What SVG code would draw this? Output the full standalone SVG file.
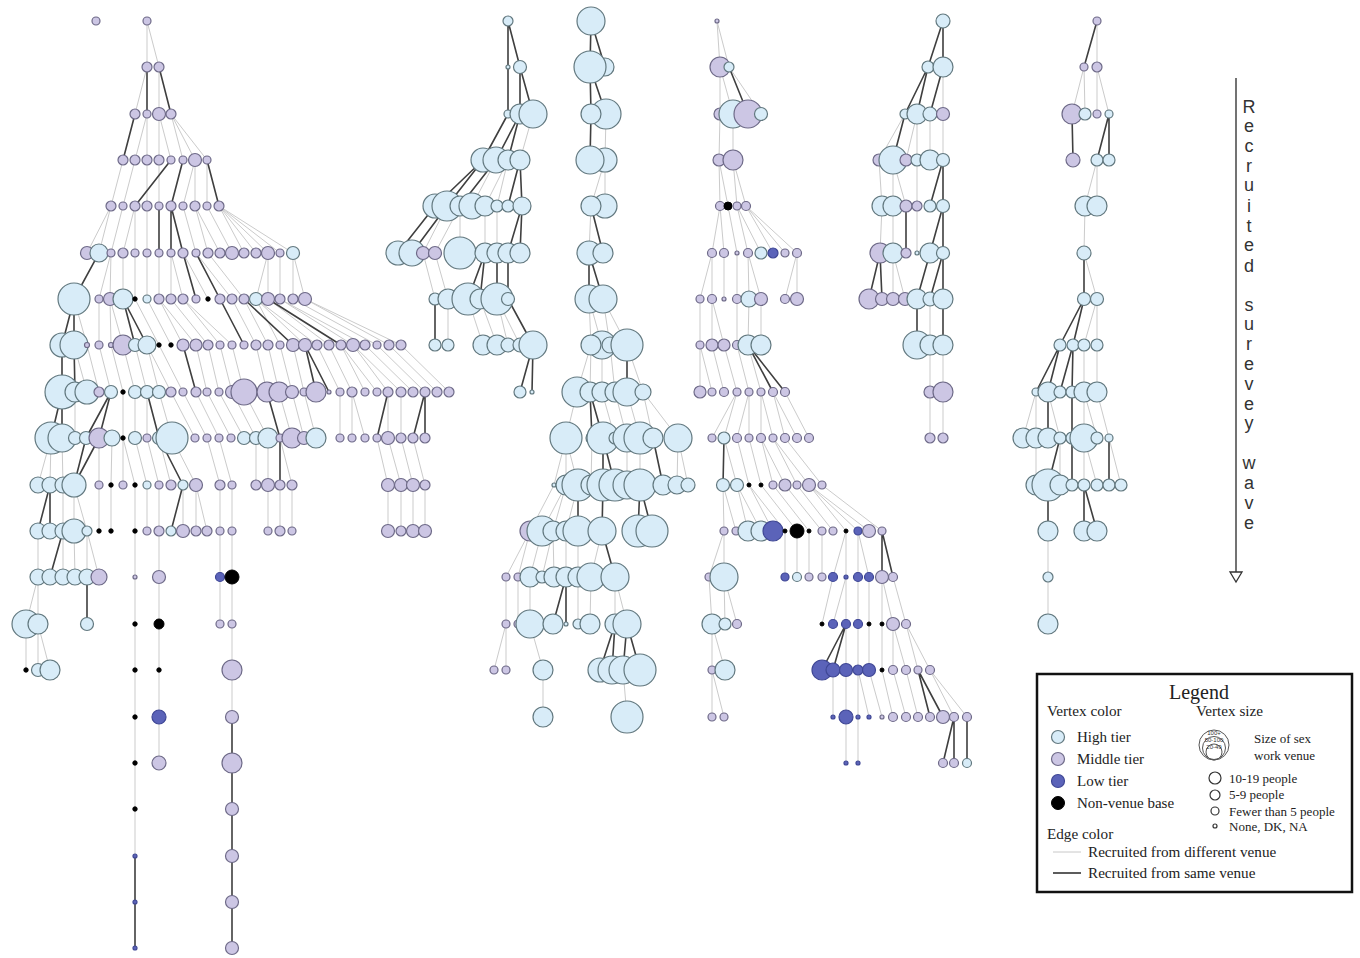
<svg xmlns="http://www.w3.org/2000/svg" width="1360" height="958" viewBox="0 0 1360 958">
<style>
.h{fill:#d8ecf8;stroke:#62787f;stroke-width:1.2}
.m{fill:#ccc6e4;stroke:#6e6a88;stroke-width:1.2}
.l{fill:#5b63b9;stroke:#3f4795;stroke-width:1.2}
.b{fill:#000;stroke:#000;stroke-width:1}
.e{fill:none;stroke:#cbcbcb;stroke-width:1}
.s{fill:none;stroke:#3f3f3f;stroke-width:1.6}
.lg{font-family:"Liberation Serif","Times New Roman",serif;fill:#222}
.ic{font-family:"Liberation Sans",Arial,sans-serif;fill:#333;font-size:6px;text-anchor:middle}
.ar{font-family:"Liberation Sans",Arial,sans-serif;fill:#333;font-size:18px;text-anchor:middle}
.w{fill:#fff;stroke:#333;stroke-width:1.2}
</style>
<rect width="1360" height="958" fill="#fff"/>
<g id="connectors">
<path class="e" d="M147 21L147 67M147 21L159 67M147 67L135 114M159 67L159 114M147 114L135 160M147 114L147 160M159 114L159 160M159 114L171 160M171 114L183 160M171 114L195 160M171 114L207 160M123 160L111 206M135 160L123 206M147 160L147 206M159 160L159 206M195 160L183 206M195 160L195 206M207 160L207 206M111 206L87 253M111 206L99 253M123 206L111 253M135 206L123 253M135 206L135 253M147 206L147 253M183 206L196 253M195 206L208 253M195 206L220 253M207 206L232 253M219 206L244 253M219 206L256 253M219 206L268 253M219 206L280 253M219 206L293 253M111 253L99 299M111 253L110 299M123 253L123 299M135 253L135 299M147 253L147 299M159 253L159 299M171 253L171 299M171 253L183 299M183 253L208 299M196 253L232 299M208 253L244 299M268 253L256 299M268 253L268 299M280 253L280 299M293 253L293 299M293 253L305 299M74 299L87 345M99 299L99 345M110 299L111 345M110 299L123 345M135 299L159 345M147 299L171 345M159 299L183 345M159 299L196 345M171 299L208 345M183 299L220 345M183 299L232 345M232 299L256 345M244 299L268 345M256 299L280 345M256 299L305 345M256 299L317 345M268 299L329 345M280 299L353 345M280 299L365 345M293 299L377 345M305 299L389 345M305 299L401 345M74 345L87 392M87 345L99 392M99 345L111 392M111 345L123 392M123 345L135 392M135 345L147 392M147 345L159 392M147 345L171 392M159 345L183 392M196 345L207 392M208 345L219 392M220 345L232 392M232 345L244 392M256 345L267 392M268 345L279 392M280 345L292 392M293 345L304 392M317 345L340 392M329 345L352 392M341 345L365 392M341 345L377 392M353 345L388 392M353 345L401 392M365 345L413 392M377 345L425 392M389 345L437 392M401 345L449 392M75 392L75 438M123 392L123 438M135 392L135 438M147 392L147 438M159 392L172 438M171 392L195 438M183 392L207 438M196 392L219 438M207 392L231 438M219 392L244 438M232 392L256 438M244 392L268 438M279 392L292 438M292 392L304 438M304 392L316 438M340 392L340 438M352 392L352 438M352 392L365 438M388 392L388 438M401 392L401 438M51 438L38 485M51 438L50 485M62 438L63 485M99 438L99 485M112 438L111 485M123 438L123 485M123 438L135 485M135 438L147 485M147 438L159 485M159 438L171 485M172 438L196 485M207 438L220 485M219 438L232 485M256 438L256 485M268 438L268 485M280 438L292 485M377 438L388 485M388 438L401 485M401 438L413 485M413 438L425 485M63 485L63 531M74 485L74 531M74 485L87 531M99 485L99 531M111 485L111 531M135 485L135 531M147 485L147 531M159 485L159 531M183 485L183 531M196 485L196 531M196 485L207 531M220 485L220 531M232 485L232 531M268 485L268 531M280 485L280 531M292 485L292 531M388 485L388 531M401 485L401 531M413 485L413 531M425 485L425 531M38 531L38 577M63 531L63 577M74 531L75 577M87 531L87 577M87 531L99 577M135 531L135 577M159 531L159 577M220 531L220 577M232 531L232 577M38 577L26 624M38 577L38 624M220 577L220 624M26 624L26 670M38 624L38 670M38 624L50 670M135 577V856M159 577V763M232 577V717"/>
<path class="e" d="M533 114L520 160M496 160L472 206M508 160L485 206M508 160L497 206M447 206L423 253M460 206L435 253M460 206L460 253M485 206L485 253M497 206L497 253M423 253L435 299M435 253L448 299M448 299L448 345M468 299L483 345M480 299L497 345M497 299L508 345M497 299L520 345"/>
<path class="e" d="M606 114L605 160M605 160L591 206M605 160L605 206M591 206L589 253M589 299L591 345M589 299L602 345M603 299L610 345M603 299L627 345M591 345L577 392M591 345L590 392M602 345L602 392M610 345L615 392M627 345L643 392M577 392L566 438M602 392L615 438M615 392L627 438M627 392L640 438M643 392L653 438M643 392L678 438M566 438L554 485M566 438L566 485M566 438L578 485M592 438L591 485M627 438L627 485M640 438L640 485M678 438L677 485M678 438L688 485M554 485L530 531M566 485L542 531M566 485L553 531M578 485L566 531M530 531L506 577M530 531L518 577M542 531L530 577M553 531L542 577M553 531L554 577M566 531L566 577M578 531L578 577M602 531L591 577M506 577L506 624M518 577L518 624M530 577L530 624M578 577L578 624M591 577L590 624M615 577L615 624M615 577L627 624M506 624L494 670M506 624L506 670M530 624L543 670M543 670L543 717M623 670L627 717"/>
<path class="e" d="M717 21L720 67M717 21L729 67M720 67L720 114M720 67L733 114M729 67L761 114M720 114L719 160M733 114L733 160M719 160L720 206M719 160L728 206M733 160L737 206M733 160L746 206M720 206L712 253M720 206L724 253M728 206L737 253M737 206L748 253M737 206L761 253M746 206L773 253M746 206L785 253M746 206L797 253M712 253L700 299M712 253L712 299M724 253L724 299M737 253L737 299M748 253L749 299M748 253L761 299M797 253L785 299M797 253L797 299M700 299L700 345M712 299L712 345M712 299L724 345M737 299L737 345M749 299L748 345M761 299L761 345M700 345L700 392M700 345L712 392M712 345L724 392M724 345L737 392M737 345L749 392M748 345L761 392M737 392L712 438M737 392L724 438M749 392L737 438M749 392L749 438M761 392L761 438M761 392L773 438M773 392L785 438M773 392L797 438M785 392L809 438M724 438L737 485M737 438L749 485M749 438L761 485M761 438L773 485M761 438L785 485M773 438L797 485M773 438L809 485M785 438L822 485M723 485L724 531M723 485L736 531M737 485L748 531M737 485L761 531M749 485L773 531M749 485L785 531M761 485L797 531M773 485L809 531M785 485L822 531M797 485L833 531M809 485L846 531M809 485L858 531M809 485L869 531M822 485L882 531M724 531L709 577M724 531L724 577M785 531L785 577M797 531L797 577M809 531L809 577M822 531L822 577M846 531L833 577M846 531L846 577M858 531L858 577M858 531L869 577M709 577L712 624M724 577L725 624M724 577L737 624M833 577L822 624M846 577L833 624M846 577L846 624M858 577L858 624M869 577L869 624M882 577L882 624M882 577L893 624M893 577L906 624M712 624L712 670M712 624L725 670M846 624L846 670M858 624L858 670M869 624L869 670M882 624L882 670M893 624L893 670M893 624L906 670M906 624L918 670M906 624L930 670M712 670L712 717M712 670L724 717M833 670L833 717M846 670L846 717M858 670L858 717M858 670L869 717M869 670L882 717M882 670L893 717M893 670L906 717M906 670L918 717M930 670L954 717M930 670L967 717M846 717L846 763M858 717L858 763"/>
<path class="e" d="M943 67L943 114M905 114L879 160M917 114L906 160M917 114L917 160M930 114L930 160M943 114L943 160M879 160L882 206M893 160L893 206M893 160L906 206M917 160L917 206M882 206L880 253M893 206L893 253M917 206L917 253M893 253L893 299M893 253L905 299M930 299L930 345M930 345L930 392M943 345L943 392M930 392L930 438M943 392L943 438"/>
<path class="e" d="M1097 21L1097 67M1084 67L1072 114M1084 67L1085 114M1097 67L1097 114M1097 67L1109 114M1097 160L1085 206M1097 160L1097 206M1085 206L1084 253M1084 253L1097 299M1097 299L1084 345M1097 299L1097 345M1084 345L1084 392M1097 345L1097 392M1036 392L1023 438M1036 392L1036 438M1048 392L1060 438M1084 392L1084 438M1084 392L1097 438M1097 392L1109 438M1036 438L1036 485M1060 438L1060 485M1084 438L1084 485M1084 438L1097 485M1109 438L1121 485M1048 531L1048 624"/>
<path class="s" d="M147 67L147 114M159 67L171 114M135 114L123 160M171 160L135 206M183 160L171 206M207 160L219 206M159 206L159 253M171 206L171 253M171 206L183 253M99 253L74 299M183 253L196 299M196 253L220 299M74 299L62 345M74 299L74 345M123 299L135 345M123 299L147 345M220 299L244 345M244 299L293 345M268 299L341 345M62 345L62 392M74 345L75 392M183 345L196 392M305 345L316 392M305 345L329 392M62 392L51 438M62 392L62 438M111 392L99 438M111 392L86 438M147 392L159 438M267 392L280 438M388 392L377 438M425 392L413 438M425 392L425 438M99 438L74 485M86 438L74 485M159 438L183 485M280 438L280 485M50 485L38 531M50 485L50 531M183 485L171 531M63 531L50 577M87 577L87 624M232 717V948M135 856V948"/>
<path class="s" d="M508 21L508 114M508 21L520 67M520 67L520 114M520 67L533 114M508 114L483 160M520 114L496 160M520 114L508 160M483 160L435 206M483 160L447 206M496 160L460 206M520 160L508 206M520 160L522 206M435 206L398 253M447 206L412 253M522 206L508 253M522 206L520 253M485 253L468 299M485 253L480 299M497 253L497 299M508 253L508 299M435 299L435 345M508 299L533 345M533 345L520 392M533 345L532 392"/>
<path class="s" d="M591 21L590 67M591 21L605 67M590 67L591 114M590 67L606 114M591 114L590 160M591 206L603 253M589 253L589 299M589 253L603 299M627 345L627 392M590 392L592 438M590 392L603 438M603 438L603 485M603 438L615 485M653 438L663 485M578 485L578 531M603 485L602 531M640 485L638 531M640 485L652 531M602 531L615 577M566 577L553 624M566 577L566 624M615 624L600 670M615 624L612 670M627 624L623 670M627 624L640 670"/>
<path class="s" d="M729 67L748 114M748 345L773 392M748 345L785 392M724 438L723 485M882 531L882 577M882 531L893 577M846 624L822 670M846 624L833 670M918 670L930 717M918 670L943 717M954 717L943 763M954 717L954 763M967 717L967 763"/>
<path class="s" d="M943 21L928 67M943 21L943 67M928 67L905 114M928 67L917 114M943 67L930 114M905 114L893 160M943 160L930 206M943 160L943 206M906 206L906 253M943 206L930 253M943 206L943 253M880 253L869 299M880 253L882 299M930 253L917 299M943 253L930 299M943 253L943 299M917 299L917 345M943 299L943 345"/>
<path class="s" d="M1097 21L1084 67M1072 114L1073 160M1109 114L1097 160M1109 114L1109 160M1084 253L1084 299M1084 299L1060 345M1084 299L1073 345M1060 345L1036 392M1060 345L1048 392M1073 345L1060 392M1073 345L1072 392M1072 392L1072 485M1048 392L1048 438M1060 438L1048 485M1109 438L1109 485M1048 485L1048 531M1084 485L1084 531M1084 485L1097 531"/>
</g>
<g id="nodes">
<g id="treeA">
<g id="A0_96"><circle class="m" cx="96" cy="21" r="4"/></g>
<g id="A0_147"><circle class="m" cx="147" cy="21" r="4"/></g>
<g id="A1_147"><circle class="m" cx="147" cy="67" r="5"/></g>
<g id="A1_159"><circle class="m" cx="159" cy="67" r="5"/></g>
<g id="A2_135"><circle class="m" cx="135" cy="114" r="5"/></g>
<g id="A2_147"><circle class="m" cx="147" cy="114" r="4"/></g>
<g id="A2_159"><circle class="m" cx="159" cy="114" r="6.5"/></g>
<g id="A2_171"><circle class="m" cx="171" cy="114" r="5"/></g>
<g id="A3_123"><circle class="m" cx="123" cy="160" r="5"/></g>
<g id="A3_135"><circle class="m" cx="135" cy="160" r="5"/></g>
<g id="A3_147"><circle class="m" cx="147" cy="160" r="5"/></g>
<g id="A3_159"><circle class="m" cx="159" cy="160" r="5"/></g>
<g id="A3_171"><circle class="m" cx="171" cy="160" r="4"/></g>
<g id="A3_183"><circle class="m" cx="183" cy="160" r="4"/></g>
<g id="A3_195"><circle class="m" cx="195" cy="160" r="6.5"/></g>
<g id="A3_207"><circle class="m" cx="207" cy="160" r="4"/></g>
<g id="A4_111"><circle class="m" cx="111" cy="206" r="5"/></g>
<g id="A4_123"><circle class="m" cx="123" cy="206" r="4"/></g>
<g id="A4_135"><circle class="m" cx="135" cy="206" r="5"/></g>
<g id="A4_147"><circle class="m" cx="147" cy="206" r="5"/></g>
<g id="A4_159"><circle class="m" cx="159" cy="206" r="4"/></g>
<g id="A4_171"><circle class="m" cx="171" cy="206" r="5"/></g>
<g id="A4_183"><circle class="m" cx="183" cy="206" r="4"/></g>
<g id="A4_195"><circle class="m" cx="195" cy="206" r="5"/></g>
<g id="A4_207"><circle class="m" cx="207" cy="206" r="4"/></g>
<g id="A4_219"><circle class="m" cx="219" cy="206" r="5"/></g>
<g id="A5_87"><circle class="m" cx="87" cy="253" r="6.5"/></g>
<g id="A5_99"><circle class="h" cx="99" cy="253" r="9"/></g>
<g id="A5_111"><circle class="m" cx="111" cy="253" r="4"/></g>
<g id="A5_123"><circle class="m" cx="123" cy="253" r="5"/></g>
<g id="A5_135"><circle class="m" cx="135" cy="253" r="4"/></g>
<g id="A5_147"><circle class="m" cx="147" cy="253" r="4"/></g>
<g id="A5_159"><circle class="m" cx="159" cy="253" r="4"/></g>
<g id="A5_171"><circle class="m" cx="171" cy="253" r="4"/></g>
<g id="A5_183"><circle class="m" cx="183" cy="253" r="5"/></g>
<g id="A5_196"><circle class="m" cx="196" cy="253" r="4"/></g>
<g id="A5_208"><circle class="m" cx="208" cy="253" r="5"/></g>
<g id="A5_220"><circle class="m" cx="220" cy="253" r="5"/></g>
<g id="A5_232"><circle class="m" cx="232" cy="253" r="6.5"/></g>
<g id="A5_244"><circle class="m" cx="244" cy="253" r="5"/></g>
<g id="A5_256"><circle class="m" cx="256" cy="253" r="5"/></g>
<g id="A5_268"><circle class="m" cx="268" cy="253" r="6.5"/></g>
<g id="A5_280"><circle class="m" cx="280" cy="253" r="4"/></g>
<g id="A5_293"><circle class="h" cx="293" cy="253" r="6.5"/></g>
<g id="A6_74"><circle class="h" cx="74" cy="299" r="16"/></g>
<g id="A6_99"><circle class="m" cx="99" cy="299" r="4"/></g>
<g id="A6_110"><circle class="m" cx="110" cy="299" r="6.5"/></g>
<g id="A6_123"><circle class="h" cx="123" cy="299" r="10"/></g>
<g id="A6_135"><circle class="b" cx="135" cy="299" r="2.2"/></g>
<g id="A6_147"><circle class="h" cx="147" cy="299" r="4"/></g>
<g id="A6_159"><circle class="m" cx="159" cy="299" r="5"/></g>
<g id="A6_171"><circle class="m" cx="171" cy="299" r="5"/></g>
<g id="A6_183"><circle class="m" cx="183" cy="299" r="5"/></g>
<g id="A6_196"><circle class="m" cx="196" cy="299" r="4"/></g>
<g id="A6_208"><circle class="b" cx="208" cy="299" r="2.2"/></g>
<g id="A6_220"><circle class="m" cx="220" cy="299" r="5"/></g>
<g id="A6_232"><circle class="m" cx="232" cy="299" r="5"/></g>
<g id="A6_244"><circle class="m" cx="244" cy="299" r="5"/></g>
<g id="A6_256"><circle class="h" cx="256" cy="299" r="6.5"/></g>
<g id="A6_268"><circle class="m" cx="268" cy="299" r="6.5"/></g>
<g id="A6_280"><circle class="m" cx="280" cy="299" r="5"/></g>
<g id="A6_293"><circle class="m" cx="293" cy="299" r="5"/></g>
<g id="A6_305"><circle class="m" cx="305" cy="299" r="6.5"/></g>
<g id="A7_62"><circle class="h" cx="62" cy="345" r="12"/></g>
<g id="A7_74"><circle class="h" cx="74" cy="345" r="14"/></g>
<g id="A7_87"><circle class="m" cx="87" cy="345" r="2.5"/></g>
<g id="A7_99"><circle class="m" cx="99" cy="345" r="4"/></g>
<g id="A7_111"><circle class="m" cx="111" cy="345" r="2.5"/></g>
<g id="A7_123"><circle class="m" cx="123" cy="345" r="10"/></g>
<g id="A7_135"><circle class="h" cx="135" cy="345" r="6.5"/></g>
<g id="A7_147"><circle class="h" cx="147" cy="345" r="9"/></g>
<g id="A7_159"><circle class="b" cx="159" cy="345" r="2.2"/></g>
<g id="A7_171"><circle class="b" cx="171" cy="345" r="2.2"/></g>
<g id="A7_183"><circle class="m" cx="183" cy="345" r="6"/></g>
<g id="A7_196"><circle class="m" cx="196" cy="345" r="6"/></g>
<g id="A7_208"><circle class="m" cx="208" cy="345" r="5"/></g>
<g id="A7_220"><circle class="m" cx="220" cy="345" r="4"/></g>
<g id="A7_232"><circle class="m" cx="232" cy="345" r="4"/></g>
<g id="A7_244"><circle class="m" cx="244" cy="345" r="4"/></g>
<g id="A7_256"><circle class="m" cx="256" cy="345" r="5"/></g>
<g id="A7_268"><circle class="m" cx="268" cy="345" r="5"/></g>
<g id="A7_280"><circle class="m" cx="280" cy="345" r="4"/></g>
<g id="A7_293"><circle class="m" cx="293" cy="345" r="6.5"/></g>
<g id="A7_305"><circle class="m" cx="305" cy="345" r="6.5"/></g>
<g id="A7_317"><circle class="m" cx="317" cy="345" r="5"/></g>
<g id="A7_329"><circle class="m" cx="329" cy="345" r="5"/></g>
<g id="A7_341"><circle class="m" cx="341" cy="345" r="5"/></g>
<g id="A7_353"><circle class="m" cx="353" cy="345" r="6.5"/></g>
<g id="A7_365"><circle class="m" cx="365" cy="345" r="5"/></g>
<g id="A7_377"><circle class="m" cx="377" cy="345" r="4"/></g>
<g id="A7_389"><circle class="m" cx="389" cy="345" r="5"/></g>
<g id="A7_401"><circle class="m" cx="401" cy="345" r="5"/></g>
<g id="A8_62"><circle class="h" cx="62" cy="392" r="17"/></g>
<g id="A8_75"><circle class="h" cx="75" cy="392" r="10"/></g>
<g id="A8_87"><circle class="h" cx="87" cy="392" r="12"/></g>
<g id="A8_99"><circle class="m" cx="99" cy="392" r="5"/></g>
<g id="A8_111"><circle class="h" cx="111" cy="392" r="6.5"/></g>
<g id="A8_123"><circle class="b" cx="123" cy="392" r="2.2"/></g>
<g id="A8_135"><circle class="h" cx="135" cy="392" r="6.5"/></g>
<g id="A8_147"><circle class="h" cx="147" cy="392" r="6.5"/></g>
<g id="A8_159"><circle class="h" cx="159" cy="392" r="6.5"/></g>
<g id="A8_171"><circle class="m" cx="171" cy="392" r="5"/></g>
<g id="A8_183"><circle class="m" cx="183" cy="392" r="4"/></g>
<g id="A8_196"><circle class="m" cx="196" cy="392" r="5"/></g>
<g id="A8_207"><circle class="m" cx="207" cy="392" r="4"/></g>
<g id="A8_219"><circle class="m" cx="219" cy="392" r="4"/></g>
<g id="A8_232"><circle class="m" cx="232" cy="392" r="6.5"/></g>
<g id="A8_244"><circle class="m" cx="244" cy="392" r="13"/></g>
<g id="A8_267"><circle class="m" cx="267" cy="392" r="10"/></g>
<g id="A8_279"><circle class="m" cx="279" cy="392" r="10"/></g>
<g id="A8_292"><circle class="m" cx="292" cy="392" r="6.5"/></g>
<g id="A8_304"><circle class="m" cx="304" cy="392" r="4"/></g>
<g id="A8_316"><circle class="m" cx="316" cy="392" r="10"/></g>
<g id="A8_329"><circle class="m" cx="329" cy="392" r="2"/></g>
<g id="A8_340"><circle class="m" cx="340" cy="392" r="4"/></g>
<g id="A8_352"><circle class="m" cx="352" cy="392" r="5"/></g>
<g id="A8_365"><circle class="m" cx="365" cy="392" r="4"/></g>
<g id="A8_377"><circle class="m" cx="377" cy="392" r="4"/></g>
<g id="A8_388"><circle class="m" cx="388" cy="392" r="5"/></g>
<g id="A8_401"><circle class="m" cx="401" cy="392" r="5"/></g>
<g id="A8_413"><circle class="m" cx="413" cy="392" r="5"/></g>
<g id="A8_425"><circle class="m" cx="425" cy="392" r="5"/></g>
<g id="A8_437"><circle class="m" cx="437" cy="392" r="5"/></g>
<g id="A8_449"><circle class="m" cx="449" cy="392" r="5"/></g>
<g id="A9_51"><circle class="h" cx="51" cy="438" r="16"/></g>
<g id="A9_62"><circle class="h" cx="62" cy="438" r="14"/></g>
<g id="A9_75"><circle class="h" cx="75" cy="438" r="6.5"/></g>
<g id="A9_86"><circle class="h" cx="86" cy="438" r="6.5"/></g>
<g id="A9_99"><circle class="m" cx="99" cy="438" r="10"/></g>
<g id="A9_112"><circle class="h" cx="112" cy="438" r="8"/></g>
<g id="A9_123"><circle class="b" cx="123" cy="438" r="2.2"/></g>
<g id="A9_135"><circle class="h" cx="135" cy="438" r="6.5"/></g>
<g id="A9_147"><circle class="m" cx="147" cy="438" r="4"/></g>
<g id="A9_159"><circle class="h" cx="159" cy="438" r="6.5"/></g>
<g id="A9_172"><circle class="h" cx="172" cy="438" r="16"/></g>
<g id="A9_195"><circle class="m" cx="195" cy="438" r="4"/></g>
<g id="A9_207"><circle class="m" cx="207" cy="438" r="4"/></g>
<g id="A9_219"><circle class="m" cx="219" cy="438" r="4"/></g>
<g id="A9_231"><circle class="m" cx="231" cy="438" r="4"/></g>
<g id="A9_244"><circle class="h" cx="244" cy="438" r="6.5"/></g>
<g id="A9_256"><circle class="h" cx="256" cy="438" r="6.5"/></g>
<g id="A9_268"><circle class="h" cx="268" cy="438" r="10"/></g>
<g id="A9_280"><circle class="m" cx="280" cy="438" r="4"/></g>
<g id="A9_292"><circle class="m" cx="292" cy="438" r="10"/></g>
<g id="A9_304"><circle class="m" cx="304" cy="438" r="6.5"/></g>
<g id="A9_316"><circle class="h" cx="316" cy="438" r="10"/></g>
<g id="A9_340"><circle class="m" cx="340" cy="438" r="4"/></g>
<g id="A9_352"><circle class="m" cx="352" cy="438" r="4"/></g>
<g id="A9_365"><circle class="m" cx="365" cy="438" r="4"/></g>
<g id="A9_377"><circle class="m" cx="377" cy="438" r="4"/></g>
<g id="A9_388"><circle class="m" cx="388" cy="438" r="6.5"/></g>
<g id="A9_401"><circle class="m" cx="401" cy="438" r="5"/></g>
<g id="A9_413"><circle class="m" cx="413" cy="438" r="5"/></g>
<g id="A9_425"><circle class="m" cx="425" cy="438" r="5"/></g>
<g id="A10_38"><circle class="h" cx="38" cy="485" r="8"/></g>
<g id="A10_50"><circle class="h" cx="50" cy="485" r="8"/></g>
<g id="A10_63"><circle class="h" cx="63" cy="485" r="8"/></g>
<g id="A10_74"><circle class="h" cx="74" cy="485" r="12"/></g>
<g id="A10_99"><circle class="m" cx="99" cy="485" r="4"/></g>
<g id="A10_111"><circle class="b" cx="111" cy="485" r="2.2"/></g>
<g id="A10_123"><circle class="m" cx="123" cy="485" r="4"/></g>
<g id="A10_135"><circle class="b" cx="135" cy="485" r="2.2"/></g>
<g id="A10_147"><circle class="h" cx="147" cy="485" r="4"/></g>
<g id="A10_159"><circle class="m" cx="159" cy="485" r="4"/></g>
<g id="A10_171"><circle class="m" cx="171" cy="485" r="5"/></g>
<g id="A10_183"><circle class="h" cx="183" cy="485" r="5"/></g>
<g id="A10_196"><circle class="m" cx="196" cy="485" r="6.5"/></g>
<g id="A10_220"><circle class="m" cx="220" cy="485" r="5"/></g>
<g id="A10_232"><circle class="m" cx="232" cy="485" r="4"/></g>
<g id="A10_256"><circle class="m" cx="256" cy="485" r="5"/></g>
<g id="A10_268"><circle class="m" cx="268" cy="485" r="6.5"/></g>
<g id="A10_280"><circle class="m" cx="280" cy="485" r="5"/></g>
<g id="A10_292"><circle class="m" cx="292" cy="485" r="5"/></g>
<g id="A10_388"><circle class="m" cx="388" cy="485" r="6.5"/></g>
<g id="A10_401"><circle class="m" cx="401" cy="485" r="6.5"/></g>
<g id="A10_413"><circle class="m" cx="413" cy="485" r="6.5"/></g>
<g id="A10_425"><circle class="m" cx="425" cy="485" r="5"/></g>
<g id="A11_38"><circle class="h" cx="38" cy="531" r="8"/></g>
<g id="A11_50"><circle class="h" cx="50" cy="531" r="8"/></g>
<g id="A11_63"><circle class="h" cx="63" cy="531" r="8"/></g>
<g id="A11_74"><circle class="h" cx="74" cy="531" r="12"/></g>
<g id="A11_87"><circle class="h" cx="87" cy="531" r="5"/></g>
<g id="A11_99"><circle class="b" cx="99" cy="531" r="2.2"/></g>
<g id="A11_111"><circle class="b" cx="111" cy="531" r="2.2"/></g>
<g id="A11_135"><circle class="b" cx="135" cy="531" r="2.2"/></g>
<g id="A11_147"><circle class="m" cx="147" cy="531" r="4"/></g>
<g id="A11_159"><circle class="m" cx="159" cy="531" r="5"/></g>
<g id="A11_171"><circle class="h" cx="171" cy="531" r="5"/></g>
<g id="A11_183"><circle class="m" cx="183" cy="531" r="6.5"/></g>
<g id="A11_196"><circle class="m" cx="196" cy="531" r="5"/></g>
<g id="A11_207"><circle class="m" cx="207" cy="531" r="5"/></g>
<g id="A11_220"><circle class="m" cx="220" cy="531" r="4"/></g>
<g id="A11_232"><circle class="m" cx="232" cy="531" r="4"/></g>
<g id="A11_268"><circle class="m" cx="268" cy="531" r="4"/></g>
<g id="A11_280"><circle class="m" cx="280" cy="531" r="5"/></g>
<g id="A11_292"><circle class="m" cx="292" cy="531" r="4"/></g>
<g id="A11_388"><circle class="m" cx="388" cy="531" r="6.5"/></g>
<g id="A11_401"><circle class="m" cx="401" cy="531" r="5"/></g>
<g id="A11_413"><circle class="m" cx="413" cy="531" r="6.5"/></g>
<g id="A11_425"><circle class="m" cx="425" cy="531" r="6.5"/></g>
<g id="A12_38"><circle class="h" cx="38" cy="577" r="8"/></g>
<g id="A12_50"><circle class="h" cx="50" cy="577" r="8"/></g>
<g id="A12_63"><circle class="h" cx="63" cy="577" r="8"/></g>
<g id="A12_75"><circle class="h" cx="75" cy="577" r="8"/></g>
<g id="A12_87"><circle class="h" cx="87" cy="577" r="8"/></g>
<g id="A12_99"><circle class="m" cx="99" cy="577" r="8"/></g>
<g id="A12_135"><circle class="m" cx="135" cy="577" r="2"/></g>
<g id="A12_159"><circle class="m" cx="159" cy="577" r="6.5"/></g>
<g id="A12_220"><circle class="l" cx="220" cy="577" r="4.5"/></g>
<g id="A12_232"><circle class="b" cx="232" cy="577" r="7"/></g>
<g id="A13_26"><circle class="h" cx="26" cy="624" r="14"/></g>
<g id="A13_38"><circle class="h" cx="38" cy="624" r="10"/></g>
<g id="A13_87"><circle class="h" cx="87" cy="624" r="6.5"/></g>
<g id="A13_135"><circle class="b" cx="135" cy="624" r="2.2"/></g>
<g id="A13_159"><circle class="b" cx="159" cy="624" r="5"/></g>
<g id="A13_220"><circle class="m" cx="220" cy="624" r="4"/></g>
<g id="A13_232"><circle class="m" cx="232" cy="624" r="4"/></g>
<g id="A14_26"><circle class="b" cx="26" cy="670" r="2.2"/></g>
<g id="A14_38"><circle class="h" cx="38" cy="670" r="6.5"/></g>
<g id="A14_50"><circle class="h" cx="50" cy="670" r="10"/></g>
<g id="A14_135"><circle class="b" cx="135" cy="670" r="2.2"/></g>
<g id="A14_159"><circle class="b" cx="159" cy="670" r="2.2"/></g>
<g id="A14_232"><circle class="m" cx="232" cy="670" r="10"/></g>
<g id="A15_135"><circle class="b" cx="135" cy="717" r="2.2"/></g>
<g id="A15_159"><circle class="l" cx="159" cy="717" r="7"/></g>
<g id="A15_232"><circle class="m" cx="232" cy="717" r="6.5"/></g>
<g id="A16_135"><circle class="b" cx="135" cy="763" r="2.2"/></g>
<g id="A16_159"><circle class="m" cx="159" cy="763" r="7"/></g>
<g id="A16_232"><circle class="m" cx="232" cy="763" r="10"/></g>
<g id="A17_135"><circle class="b" cx="135" cy="809" r="2.2"/></g>
<g id="A17_232"><circle class="m" cx="232" cy="809" r="6.5"/></g>
<g id="A18_135"><circle class="l" cx="135" cy="856" r="2"/></g>
<g id="A18_232"><circle class="m" cx="232" cy="856" r="6.5"/></g>
<g id="A19_135"><circle class="l" cx="135" cy="902" r="2"/></g>
<g id="A19_232"><circle class="m" cx="232" cy="902" r="6.5"/></g>
<g id="A20_135"><circle class="l" cx="135" cy="948" r="2"/></g>
<g id="A20_232"><circle class="m" cx="232" cy="948" r="6.5"/></g>
</g>
<g id="treeB">
<g id="B0_508"><circle class="h" cx="508" cy="21" r="5"/></g>
<g id="B1_508"><circle class="h" cx="508" cy="67" r="2"/></g>
<g id="B1_520"><circle class="h" cx="520" cy="67" r="6.5"/></g>
<g id="B2_508"><circle class="h" cx="508" cy="114" r="4"/></g>
<g id="B2_520"><circle class="h" cx="520" cy="114" r="10"/></g>
<g id="B2_533"><circle class="h" cx="533" cy="114" r="14"/></g>
<g id="B3_483"><circle class="h" cx="483" cy="160" r="12"/></g>
<g id="B3_496"><circle class="h" cx="496" cy="160" r="13"/></g>
<g id="B3_508"><circle class="h" cx="508" cy="160" r="10"/></g>
<g id="B3_520"><circle class="h" cx="520" cy="160" r="10"/></g>
<g id="B4_435"><circle class="h" cx="435" cy="206" r="12"/></g>
<g id="B4_447"><circle class="h" cx="447" cy="206" r="15"/></g>
<g id="B4_460"><circle class="h" cx="460" cy="206" r="10"/></g>
<g id="B4_472"><circle class="h" cx="472" cy="206" r="13"/></g>
<g id="B4_485"><circle class="h" cx="485" cy="206" r="10"/></g>
<g id="B4_497"><circle class="h" cx="497" cy="206" r="6"/></g>
<g id="B4_508"><circle class="h" cx="508" cy="206" r="6"/></g>
<g id="B4_522"><circle class="h" cx="522" cy="206" r="9"/></g>
<g id="B5_398"><circle class="h" cx="398" cy="253" r="12"/></g>
<g id="B5_412"><circle class="h" cx="412" cy="253" r="13"/></g>
<g id="B5_423"><circle class="m" cx="423" cy="253" r="6.5"/></g>
<g id="B5_435"><circle class="m" cx="435" cy="253" r="6.5"/></g>
<g id="B5_460"><circle class="h" cx="460" cy="253" r="16"/></g>
<g id="B5_485"><circle class="h" cx="485" cy="253" r="10"/></g>
<g id="B5_497"><circle class="h" cx="497" cy="253" r="10"/></g>
<g id="B5_508"><circle class="h" cx="508" cy="253" r="10"/></g>
<g id="B5_520"><circle class="h" cx="520" cy="253" r="10"/></g>
<g id="B6_435"><circle class="h" cx="435" cy="299" r="6"/></g>
<g id="B6_448"><circle class="h" cx="448" cy="299" r="10"/></g>
<g id="B6_468"><circle class="h" cx="468" cy="299" r="16"/></g>
<g id="B6_480"><circle class="h" cx="480" cy="299" r="10"/></g>
<g id="B6_497"><circle class="h" cx="497" cy="299" r="16"/></g>
<g id="B6_508"><circle class="h" cx="508" cy="299" r="6.5"/></g>
<g id="B7_435"><circle class="h" cx="435" cy="345" r="6"/></g>
<g id="B7_448"><circle class="h" cx="448" cy="345" r="6"/></g>
<g id="B7_483"><circle class="h" cx="483" cy="345" r="10"/></g>
<g id="B7_497"><circle class="h" cx="497" cy="345" r="10"/></g>
<g id="B7_508"><circle class="h" cx="508" cy="345" r="7"/></g>
<g id="B7_520"><circle class="h" cx="520" cy="345" r="7"/></g>
<g id="B7_533"><circle class="h" cx="533" cy="345" r="14"/></g>
<g id="B8_520"><circle class="h" cx="520" cy="392" r="6"/></g>
<g id="B8_532"><circle class="h" cx="532" cy="392" r="2"/></g>
</g>
<g id="treeC">
<g id="C0_591"><circle class="h" cx="591" cy="21" r="14"/></g>
<g id="C1_605"><circle class="h" cx="605" cy="67" r="9"/></g>
<g id="C1_590"><circle class="h" cx="590" cy="67" r="16"/></g>
<g id="C2_606"><circle class="h" cx="606" cy="114" r="15"/></g>
<g id="C2_591"><circle class="h" cx="591" cy="114" r="10"/></g>
<g id="C3_605"><circle class="h" cx="605" cy="160" r="12"/></g>
<g id="C3_590"><circle class="h" cx="590" cy="160" r="14"/></g>
<g id="C4_605"><circle class="h" cx="605" cy="206" r="12"/></g>
<g id="C4_591"><circle class="h" cx="591" cy="206" r="10"/></g>
<g id="C5_589"><circle class="h" cx="589" cy="253" r="12"/></g>
<g id="C5_603"><circle class="h" cx="603" cy="253" r="10"/></g>
<g id="C6_589"><circle class="h" cx="589" cy="299" r="14"/></g>
<g id="C6_603"><circle class="h" cx="603" cy="299" r="14"/></g>
<g id="C7_602"><circle class="h" cx="602" cy="345" r="14"/></g>
<g id="C7_591"><circle class="h" cx="591" cy="345" r="10"/></g>
<g id="C7_610"><circle class="h" cx="610" cy="345" r="8"/></g>
<g id="C7_627"><circle class="h" cx="627" cy="345" r="16"/></g>
<g id="C8_577"><circle class="h" cx="577" cy="392" r="15"/></g>
<g id="C8_590"><circle class="h" cx="590" cy="392" r="10"/></g>
<g id="C8_602"><circle class="h" cx="602" cy="392" r="10"/></g>
<g id="C8_615"><circle class="h" cx="615" cy="392" r="10"/></g>
<g id="C8_627"><circle class="h" cx="627" cy="392" r="14"/></g>
<g id="C8_643"><circle class="h" cx="643" cy="392" r="8"/></g>
<g id="C9_566"><circle class="h" cx="566" cy="438" r="16"/></g>
<g id="C9_592"><circle class="h" cx="592" cy="438" r="6"/></g>
<g id="C9_603"><circle class="h" cx="603" cy="438" r="16"/></g>
<g id="C9_615"><circle class="h" cx="615" cy="438" r="6"/></g>
<g id="C9_627"><circle class="h" cx="627" cy="438" r="14"/></g>
<g id="C9_640"><circle class="h" cx="640" cy="438" r="16"/></g>
<g id="C9_653"><circle class="h" cx="653" cy="438" r="10"/></g>
<g id="C9_678"><circle class="h" cx="678" cy="438" r="14"/></g>
<g id="C10_554"><circle class="h" cx="554" cy="485" r="2"/></g>
<g id="C10_566"><circle class="h" cx="566" cy="485" r="10"/></g>
<g id="C10_578"><circle class="h" cx="578" cy="485" r="16"/></g>
<g id="C10_591"><circle class="h" cx="591" cy="485" r="10"/></g>
<g id="C10_603"><circle class="h" cx="603" cy="485" r="16"/></g>
<g id="C10_615"><circle class="h" cx="615" cy="485" r="16"/></g>
<g id="C10_627"><circle class="h" cx="627" cy="485" r="14"/></g>
<g id="C10_640"><circle class="h" cx="640" cy="485" r="16"/></g>
<g id="C10_663"><circle class="h" cx="663" cy="485" r="10"/></g>
<g id="C10_677"><circle class="h" cx="677" cy="485" r="9"/></g>
<g id="C10_688"><circle class="h" cx="688" cy="485" r="7"/></g>
<g id="C11_530"><circle class="m" cx="530" cy="531" r="10"/></g>
<g id="C11_542"><circle class="h" cx="542" cy="531" r="15"/></g>
<g id="C11_553"><circle class="h" cx="553" cy="531" r="10"/></g>
<g id="C11_566"><circle class="h" cx="566" cy="531" r="10"/></g>
<g id="C11_578"><circle class="h" cx="578" cy="531" r="15"/></g>
<g id="C11_602"><circle class="h" cx="602" cy="531" r="14"/></g>
<g id="C11_638"><circle class="h" cx="638" cy="531" r="16"/></g>
<g id="C11_652"><circle class="h" cx="652" cy="531" r="16"/></g>
<g id="C12_506"><circle class="m" cx="506" cy="577" r="4"/></g>
<g id="C12_518"><circle class="m" cx="518" cy="577" r="4"/></g>
<g id="C12_530"><circle class="h" cx="530" cy="577" r="10"/></g>
<g id="C12_542"><circle class="h" cx="542" cy="577" r="6"/></g>
<g id="C12_554"><circle class="h" cx="554" cy="577" r="10"/></g>
<g id="C12_566"><circle class="h" cx="566" cy="577" r="10"/></g>
<g id="C12_578"><circle class="h" cx="578" cy="577" r="10"/></g>
<g id="C12_591"><circle class="h" cx="591" cy="577" r="14"/></g>
<g id="C12_615"><circle class="h" cx="615" cy="577" r="14"/></g>
<g id="C13_506"><circle class="m" cx="506" cy="624" r="4"/></g>
<g id="C13_518"><circle class="m" cx="518" cy="624" r="4"/></g>
<g id="C13_530"><circle class="h" cx="530" cy="624" r="14"/></g>
<g id="C13_553"><circle class="h" cx="553" cy="624" r="10"/></g>
<g id="C13_566"><circle class="h" cx="566" cy="624" r="2"/></g>
<g id="C13_578"><circle class="h" cx="578" cy="624" r="5"/></g>
<g id="C13_590"><circle class="h" cx="590" cy="624" r="10"/></g>
<g id="C13_615"><circle class="h" cx="615" cy="624" r="10"/></g>
<g id="C13_627"><circle class="h" cx="627" cy="624" r="14"/></g>
<g id="C14_494"><circle class="m" cx="494" cy="670" r="4"/></g>
<g id="C14_506"><circle class="m" cx="506" cy="670" r="4"/></g>
<g id="C14_543"><circle class="h" cx="543" cy="670" r="10"/></g>
<g id="C14_600"><circle class="h" cx="600" cy="670" r="12"/></g>
<g id="C14_612"><circle class="h" cx="612" cy="670" r="14"/></g>
<g id="C14_623"><circle class="h" cx="623" cy="670" r="14"/></g>
<g id="C14_640"><circle class="h" cx="640" cy="670" r="16"/></g>
<g id="C15_543"><circle class="h" cx="543" cy="717" r="10"/></g>
<g id="C15_627"><circle class="h" cx="627" cy="717" r="16"/></g>
</g>
<g id="treeD">
<g id="D0_717"><circle class="m" cx="717" cy="21" r="2"/></g>
<g id="D1_720"><circle class="m" cx="720" cy="67" r="10"/></g>
<g id="D1_729"><circle class="h" cx="729" cy="67" r="5"/></g>
<g id="D2_720"><circle class="m" cx="720" cy="114" r="6"/></g>
<g id="D2_733"><circle class="h" cx="733" cy="114" r="14"/></g>
<g id="D2_748"><circle class="m" cx="748" cy="114" r="14"/></g>
<g id="D2_761"><circle class="h" cx="761" cy="114" r="6.5"/></g>
<g id="D3_719"><circle class="m" cx="719" cy="160" r="6"/></g>
<g id="D3_733"><circle class="m" cx="733" cy="160" r="10"/></g>
<g id="D4_720"><circle class="m" cx="720" cy="206" r="4.5"/></g>
<g id="D4_728"><circle class="b" cx="728" cy="206" r="4"/></g>
<g id="D4_737"><circle class="m" cx="737" cy="206" r="4"/></g>
<g id="D4_746"><circle class="m" cx="746" cy="206" r="4.5"/></g>
<g id="D5_712"><circle class="m" cx="712" cy="253" r="4.5"/></g>
<g id="D5_724"><circle class="m" cx="724" cy="253" r="4.5"/></g>
<g id="D5_737"><circle class="m" cx="737" cy="253" r="2"/></g>
<g id="D5_748"><circle class="m" cx="748" cy="253" r="4.5"/></g>
<g id="D5_761"><circle class="h" cx="761" cy="253" r="6"/></g>
<g id="D5_773"><circle class="l" cx="773" cy="253" r="5"/></g>
<g id="D5_785"><circle class="m" cx="785" cy="253" r="4"/></g>
<g id="D5_797"><circle class="m" cx="797" cy="253" r="4.5"/></g>
<g id="D6_700"><circle class="m" cx="700" cy="299" r="4"/></g>
<g id="D6_712"><circle class="m" cx="712" cy="299" r="4.5"/></g>
<g id="D6_724"><circle class="m" cx="724" cy="299" r="2"/></g>
<g id="D6_737"><circle class="m" cx="737" cy="299" r="4.5"/></g>
<g id="D6_749"><circle class="h" cx="749" cy="299" r="8"/></g>
<g id="D6_761"><circle class="m" cx="761" cy="299" r="6.5"/></g>
<g id="D6_785"><circle class="m" cx="785" cy="299" r="4.5"/></g>
<g id="D6_797"><circle class="m" cx="797" cy="299" r="6.5"/></g>
<g id="D7_700"><circle class="m" cx="700" cy="345" r="4"/></g>
<g id="D7_712"><circle class="m" cx="712" cy="345" r="6"/></g>
<g id="D7_724"><circle class="m" cx="724" cy="345" r="6"/></g>
<g id="D7_737"><circle class="m" cx="737" cy="345" r="4.5"/></g>
<g id="D7_748"><circle class="h" cx="748" cy="345" r="10"/></g>
<g id="D7_761"><circle class="h" cx="761" cy="345" r="10"/></g>
<g id="D8_700"><circle class="m" cx="700" cy="392" r="6"/></g>
<g id="D8_712"><circle class="m" cx="712" cy="392" r="4"/></g>
<g id="D8_724"><circle class="m" cx="724" cy="392" r="4.5"/></g>
<g id="D8_737"><circle class="m" cx="737" cy="392" r="4"/></g>
<g id="D8_749"><circle class="m" cx="749" cy="392" r="4"/></g>
<g id="D8_761"><circle class="m" cx="761" cy="392" r="4"/></g>
<g id="D8_773"><circle class="m" cx="773" cy="392" r="4.5"/></g>
<g id="D8_785"><circle class="m" cx="785" cy="392" r="4.5"/></g>
<g id="D9_712"><circle class="m" cx="712" cy="438" r="4"/></g>
<g id="D9_724"><circle class="h" cx="724" cy="438" r="6"/></g>
<g id="D9_737"><circle class="m" cx="737" cy="438" r="4.5"/></g>
<g id="D9_749"><circle class="m" cx="749" cy="438" r="4"/></g>
<g id="D9_761"><circle class="m" cx="761" cy="438" r="4.5"/></g>
<g id="D9_773"><circle class="m" cx="773" cy="438" r="4"/></g>
<g id="D9_785"><circle class="m" cx="785" cy="438" r="4.5"/></g>
<g id="D9_797"><circle class="m" cx="797" cy="438" r="4.5"/></g>
<g id="D9_809"><circle class="m" cx="809" cy="438" r="4.5"/></g>
<g id="D10_723"><circle class="h" cx="723" cy="485" r="6.5"/></g>
<g id="D10_737"><circle class="h" cx="737" cy="485" r="6.5"/></g>
<g id="D10_749"><circle class="b" cx="749" cy="485" r="2"/></g>
<g id="D10_761"><circle class="b" cx="761" cy="485" r="2"/></g>
<g id="D10_773"><circle class="m" cx="773" cy="485" r="4"/></g>
<g id="D10_785"><circle class="m" cx="785" cy="485" r="6"/></g>
<g id="D10_797"><circle class="m" cx="797" cy="485" r="4"/></g>
<g id="D10_809"><circle class="m" cx="809" cy="485" r="6.5"/></g>
<g id="D10_822"><circle class="m" cx="822" cy="485" r="4"/></g>
<g id="D11_724"><circle class="m" cx="724" cy="531" r="4"/></g>
<g id="D11_736"><circle class="m" cx="736" cy="531" r="4"/></g>
<g id="D11_748"><circle class="h" cx="748" cy="531" r="10"/></g>
<g id="D11_761"><circle class="h" cx="761" cy="531" r="10"/></g>
<g id="D11_773"><circle class="l" cx="773" cy="531" r="10"/></g>
<g id="D11_785"><circle class="b" cx="785" cy="531" r="2"/></g>
<g id="D11_797"><circle class="b" cx="797" cy="531" r="7"/></g>
<g id="D11_809"><circle class="b" cx="809" cy="531" r="2"/></g>
<g id="D11_822"><circle class="m" cx="822" cy="531" r="4"/></g>
<g id="D11_833"><circle class="m" cx="833" cy="531" r="4"/></g>
<g id="D11_846"><circle class="b" cx="846" cy="531" r="2"/></g>
<g id="D11_858"><circle class="l" cx="858" cy="531" r="4"/></g>
<g id="D11_869"><circle class="m" cx="869" cy="531" r="6.5"/></g>
<g id="D11_882"><circle class="m" cx="882" cy="531" r="4"/></g>
<g id="D12_709"><circle class="m" cx="709" cy="577" r="4"/></g>
<g id="D12_724"><circle class="h" cx="724" cy="577" r="14"/></g>
<g id="D12_785"><circle class="l" cx="785" cy="577" r="4"/></g>
<g id="D12_797"><circle class="h" cx="797" cy="577" r="4.5"/></g>
<g id="D12_809"><circle class="m" cx="809" cy="577" r="4"/></g>
<g id="D12_822"><circle class="m" cx="822" cy="577" r="4"/></g>
<g id="D12_833"><circle class="l" cx="833" cy="577" r="4.5"/></g>
<g id="D12_846"><circle class="l" cx="846" cy="577" r="2"/></g>
<g id="D12_858"><circle class="l" cx="858" cy="577" r="4.5"/></g>
<g id="D12_869"><circle class="l" cx="869" cy="577" r="4.5"/></g>
<g id="D12_882"><circle class="m" cx="882" cy="577" r="6.5"/></g>
<g id="D12_893"><circle class="m" cx="893" cy="577" r="4.5"/></g>
<g id="D13_712"><circle class="h" cx="712" cy="624" r="10"/></g>
<g id="D13_725"><circle class="h" cx="725" cy="624" r="6"/></g>
<g id="D13_737"><circle class="m" cx="737" cy="624" r="4.5"/></g>
<g id="D13_822"><circle class="b" cx="822" cy="624" r="2"/></g>
<g id="D13_833"><circle class="l" cx="833" cy="624" r="4.5"/></g>
<g id="D13_846"><circle class="l" cx="846" cy="624" r="4.5"/></g>
<g id="D13_858"><circle class="l" cx="858" cy="624" r="4.5"/></g>
<g id="D13_869"><circle class="b" cx="869" cy="624" r="2"/></g>
<g id="D13_882"><circle class="b" cx="882" cy="624" r="2"/></g>
<g id="D13_893"><circle class="m" cx="893" cy="624" r="6.5"/></g>
<g id="D13_906"><circle class="m" cx="906" cy="624" r="4.5"/></g>
<g id="D14_712"><circle class="m" cx="712" cy="670" r="4"/></g>
<g id="D14_725"><circle class="h" cx="725" cy="670" r="10"/></g>
<g id="D14_822"><circle class="l" cx="822" cy="670" r="10"/></g>
<g id="D14_833"><circle class="l" cx="833" cy="670" r="7"/></g>
<g id="D14_846"><circle class="l" cx="846" cy="670" r="6.5"/></g>
<g id="D14_858"><circle class="l" cx="858" cy="670" r="5"/></g>
<g id="D14_869"><circle class="l" cx="869" cy="670" r="6.5"/></g>
<g id="D14_882"><circle class="b" cx="882" cy="670" r="2"/></g>
<g id="D14_893"><circle class="m" cx="893" cy="670" r="4.5"/></g>
<g id="D14_906"><circle class="m" cx="906" cy="670" r="4.5"/></g>
<g id="D14_918"><circle class="m" cx="918" cy="670" r="4"/></g>
<g id="D14_930"><circle class="m" cx="930" cy="670" r="4.5"/></g>
<g id="D15_712"><circle class="m" cx="712" cy="717" r="4"/></g>
<g id="D15_724"><circle class="m" cx="724" cy="717" r="4"/></g>
<g id="D15_833"><circle class="l" cx="833" cy="717" r="2"/></g>
<g id="D15_846"><circle class="l" cx="846" cy="717" r="7"/></g>
<g id="D15_858"><circle class="l" cx="858" cy="717" r="2"/></g>
<g id="D15_869"><circle class="l" cx="869" cy="717" r="2"/></g>
<g id="D15_882"><circle class="m" cx="882" cy="717" r="2"/></g>
<g id="D15_893"><circle class="m" cx="893" cy="717" r="4.5"/></g>
<g id="D15_906"><circle class="m" cx="906" cy="717" r="4.5"/></g>
<g id="D15_918"><circle class="m" cx="918" cy="717" r="4.5"/></g>
<g id="D15_930"><circle class="m" cx="930" cy="717" r="4.5"/></g>
<g id="D15_943"><circle class="m" cx="943" cy="717" r="6.5"/></g>
<g id="D15_954"><circle class="m" cx="954" cy="717" r="4.5"/></g>
<g id="D15_967"><circle class="m" cx="967" cy="717" r="4.5"/></g>
<g id="D16_846"><circle class="l" cx="846" cy="763" r="2"/></g>
<g id="D16_858"><circle class="l" cx="858" cy="763" r="2"/></g>
<g id="D16_943"><circle class="m" cx="943" cy="763" r="4.5"/></g>
<g id="D16_954"><circle class="m" cx="954" cy="763" r="4.5"/></g>
<g id="D16_967"><circle class="h" cx="967" cy="763" r="4.5"/></g>
</g>
<g id="treeE">
<g id="E0_943"><circle class="h" cx="943" cy="21" r="7"/></g>
<g id="E1_928"><circle class="h" cx="928" cy="67" r="6"/></g>
<g id="E1_943"><circle class="h" cx="943" cy="67" r="10"/></g>
<g id="E2_905"><circle class="h" cx="905" cy="114" r="5"/></g>
<g id="E2_917"><circle class="h" cx="917" cy="114" r="10"/></g>
<g id="E2_930"><circle class="h" cx="930" cy="114" r="7"/></g>
<g id="E2_943"><circle class="m" cx="943" cy="114" r="6.5"/></g>
<g id="E3_879"><circle class="m" cx="879" cy="160" r="6"/></g>
<g id="E3_893"><circle class="h" cx="893" cy="160" r="14"/></g>
<g id="E3_906"><circle class="m" cx="906" cy="160" r="6"/></g>
<g id="E3_917"><circle class="h" cx="917" cy="160" r="6"/></g>
<g id="E3_930"><circle class="h" cx="930" cy="160" r="10"/></g>
<g id="E3_943"><circle class="h" cx="943" cy="160" r="6.5"/></g>
<g id="E4_882"><circle class="h" cx="882" cy="206" r="10"/></g>
<g id="E4_893"><circle class="h" cx="893" cy="206" r="10"/></g>
<g id="E4_906"><circle class="m" cx="906" cy="206" r="6"/></g>
<g id="E4_917"><circle class="m" cx="917" cy="206" r="5"/></g>
<g id="E4_930"><circle class="h" cx="930" cy="206" r="6"/></g>
<g id="E4_943"><circle class="h" cx="943" cy="206" r="6.5"/></g>
<g id="E5_880"><circle class="m" cx="880" cy="253" r="10"/></g>
<g id="E5_893"><circle class="h" cx="893" cy="253" r="10"/></g>
<g id="E5_906"><circle class="m" cx="906" cy="253" r="5"/></g>
<g id="E5_917"><circle class="h" cx="917" cy="253" r="2"/></g>
<g id="E5_930"><circle class="h" cx="930" cy="253" r="10"/></g>
<g id="E5_943"><circle class="h" cx="943" cy="253" r="6.5"/></g>
<g id="E6_869"><circle class="m" cx="869" cy="299" r="10"/></g>
<g id="E6_882"><circle class="m" cx="882" cy="299" r="6.5"/></g>
<g id="E6_893"><circle class="m" cx="893" cy="299" r="6.5"/></g>
<g id="E6_905"><circle class="m" cx="905" cy="299" r="6.5"/></g>
<g id="E6_917"><circle class="h" cx="917" cy="299" r="10"/></g>
<g id="E6_930"><circle class="h" cx="930" cy="299" r="7"/></g>
<g id="E6_943"><circle class="h" cx="943" cy="299" r="10"/></g>
<g id="E7_917"><circle class="h" cx="917" cy="345" r="14"/></g>
<g id="E7_930"><circle class="h" cx="930" cy="345" r="10"/></g>
<g id="E7_943"><circle class="h" cx="943" cy="345" r="10"/></g>
<g id="E8_930"><circle class="m" cx="930" cy="392" r="6"/></g>
<g id="E8_943"><circle class="m" cx="943" cy="392" r="10"/></g>
<g id="E9_930"><circle class="m" cx="930" cy="438" r="5"/></g>
<g id="E9_943"><circle class="m" cx="943" cy="438" r="5"/></g>
</g>
<g id="treeF">
<g id="F0_1097"><circle class="m" cx="1097" cy="21" r="4"/></g>
<g id="F1_1084"><circle class="m" cx="1084" cy="67" r="4"/></g>
<g id="F1_1097"><circle class="m" cx="1097" cy="67" r="5"/></g>
<g id="F2_1072"><circle class="m" cx="1072" cy="114" r="10"/></g>
<g id="F2_1085"><circle class="h" cx="1085" cy="114" r="6"/></g>
<g id="F2_1097"><circle class="m" cx="1097" cy="114" r="4"/></g>
<g id="F2_1109"><circle class="h" cx="1109" cy="114" r="4"/></g>
<g id="F3_1073"><circle class="m" cx="1073" cy="160" r="7"/></g>
<g id="F3_1097"><circle class="h" cx="1097" cy="160" r="6"/></g>
<g id="F3_1109"><circle class="h" cx="1109" cy="160" r="6"/></g>
<g id="F4_1085"><circle class="h" cx="1085" cy="206" r="10"/></g>
<g id="F4_1097"><circle class="h" cx="1097" cy="206" r="10"/></g>
<g id="F5_1084"><circle class="h" cx="1084" cy="253" r="7"/></g>
<g id="F6_1084"><circle class="h" cx="1084" cy="299" r="6.5"/></g>
<g id="F6_1097"><circle class="h" cx="1097" cy="299" r="6.5"/></g>
<g id="F7_1060"><circle class="h" cx="1060" cy="345" r="6"/></g>
<g id="F7_1073"><circle class="h" cx="1073" cy="345" r="6"/></g>
<g id="F7_1084"><circle class="h" cx="1084" cy="345" r="6"/></g>
<g id="F7_1097"><circle class="h" cx="1097" cy="345" r="6"/></g>
<g id="F8_1036"><circle class="h" cx="1036" cy="392" r="4"/></g>
<g id="F8_1048"><circle class="h" cx="1048" cy="392" r="10"/></g>
<g id="F8_1060"><circle class="h" cx="1060" cy="392" r="6"/></g>
<g id="F8_1072"><circle class="h" cx="1072" cy="392" r="6"/></g>
<g id="F8_1084"><circle class="h" cx="1084" cy="392" r="10"/></g>
<g id="F8_1097"><circle class="h" cx="1097" cy="392" r="10"/></g>
<g id="F9_1023"><circle class="h" cx="1023" cy="438" r="10"/></g>
<g id="F9_1036"><circle class="h" cx="1036" cy="438" r="10"/></g>
<g id="F9_1048"><circle class="h" cx="1048" cy="438" r="10"/></g>
<g id="F9_1060"><circle class="h" cx="1060" cy="438" r="6"/></g>
<g id="F9_1072"><circle class="h" cx="1072" cy="438" r="6"/></g>
<g id="F9_1084"><circle class="h" cx="1084" cy="438" r="14"/></g>
<g id="F9_1097"><circle class="h" cx="1097" cy="438" r="6"/></g>
<g id="F9_1109"><circle class="h" cx="1109" cy="438" r="4"/></g>
<g id="F10_1036"><circle class="h" cx="1036" cy="485" r="10"/></g>
<g id="F10_1048"><circle class="h" cx="1048" cy="485" r="16"/></g>
<g id="F10_1060"><circle class="h" cx="1060" cy="485" r="10"/></g>
<g id="F10_1072"><circle class="h" cx="1072" cy="485" r="6"/></g>
<g id="F10_1084"><circle class="h" cx="1084" cy="485" r="6"/></g>
<g id="F10_1097"><circle class="h" cx="1097" cy="485" r="6"/></g>
<g id="F10_1109"><circle class="h" cx="1109" cy="485" r="6"/></g>
<g id="F10_1121"><circle class="h" cx="1121" cy="485" r="6"/></g>
<g id="F11_1048"><circle class="h" cx="1048" cy="531" r="10"/></g>
<g id="F11_1084"><circle class="h" cx="1084" cy="531" r="10"/></g>
<g id="F11_1097"><circle class="h" cx="1097" cy="531" r="10"/></g>
<g id="F12_1048"><circle class="h" cx="1048" cy="577" r="5"/></g>
<g id="F13_1048"><circle class="h" cx="1048" cy="624" r="10"/></g>
</g>
</g>
<g id="wave-axis">
<line x1="1236" y1="78" x2="1236" y2="572" stroke="#444" stroke-width="1.5"/>
<polygon points="1230,572 1242,572 1236,582" fill="#fff" stroke="#333" stroke-width="1.3"/>
<text class="ar"><tspan x="1249" y="113">R</tspan><tspan x="1249" y="132">e</tspan><tspan x="1249" y="152">c</tspan><tspan x="1249" y="172">r</tspan><tspan x="1249" y="191">u</tspan><tspan x="1249" y="212">i</tspan><tspan x="1249" y="232">t</tspan><tspan x="1249" y="251">e</tspan><tspan x="1249" y="272">d</tspan><tspan x="1249" y="311">s</tspan><tspan x="1249" y="330">u</tspan><tspan x="1249" y="350">r</tspan><tspan x="1249" y="370">e</tspan><tspan x="1249" y="390">v</tspan><tspan x="1249" y="410">e</tspan><tspan x="1249" y="429">y</tspan><tspan x="1249" y="469">w</tspan><tspan x="1249" y="489">a</tspan><tspan x="1249" y="509">v</tspan><tspan x="1249" y="529">e</tspan></text>
</g>
<g id="legend">
<rect x="1037" y="674" width="315" height="218" fill="#fff" stroke="#111" stroke-width="2.5"/>
<text class="lg" x="1199" y="699" font-size="20" text-anchor="middle">Legend</text>
<text class="lg" x="1047" y="716" font-size="15.2">Vertex color</text>
<text class="lg" x="1196" y="716" font-size="15.2">Vertex size</text>
<circle class="h" cx="1058" cy="737" r="6.5"/>
<circle class="m" cx="1058" cy="759" r="6.5"/>
<circle class="l" cx="1058" cy="781" r="6.5"/>
<circle class="b" cx="1058" cy="803" r="6.5"/>
<text class="lg" x="1077" y="742" font-size="15">High tier</text>
<text class="lg" x="1077" y="764" font-size="15">Middle tier</text>
<text class="lg" x="1077" y="786" font-size="15">Low tier</text>
<text class="lg" x="1077" y="808" font-size="15">Non-venue base</text>
<circle cx="1214" cy="745" r="15" fill="#fff" stroke="#555" stroke-width="1"/>
<circle cx="1214" cy="748" r="11.5" fill="none" stroke="#555" stroke-width="1"/>
<circle cx="1214" cy="752" r="8" fill="none" stroke="#555" stroke-width="1"/>
<text class="ic" x="1214" y="735">100+</text>
<text class="ic" x="1214" y="742">50-100</text>
<text class="ic" x="1214" y="749">20-49</text>
<text class="lg" x="1254" y="743" font-size="13">Size of sex</text>
<text class="lg" x="1254" y="760" font-size="13">work venue</text>
<circle class="w" cx="1215" cy="778" r="6"/>
<circle class="w" cx="1215" cy="795" r="5"/>
<circle class="w" cx="1215" cy="811" r="4"/>
<circle class="w" cx="1215" cy="826" r="2"/>
<text class="lg" x="1229" y="783" font-size="13">10-19 people</text>
<text class="lg" x="1229" y="799" font-size="13">5-9 people</text>
<text class="lg" x="1229" y="816" font-size="13">Fewer than 5 people</text>
<text class="lg" x="1229" y="831" font-size="13">None, DK, NA</text>
<text class="lg" x="1047" y="839" font-size="15.2">Edge color</text>
<line x1="1053" y1="852" x2="1081" y2="852" stroke="#c8c8c8" stroke-width="1"/>
<line x1="1053" y1="873" x2="1081" y2="873" stroke="#333" stroke-width="1.6"/>
<text class="lg" x="1088" y="857" font-size="15.2">Recruited from different venue</text>
<text class="lg" x="1088" y="878" font-size="15.2">Recruited from same venue</text>
</g>
</svg>
